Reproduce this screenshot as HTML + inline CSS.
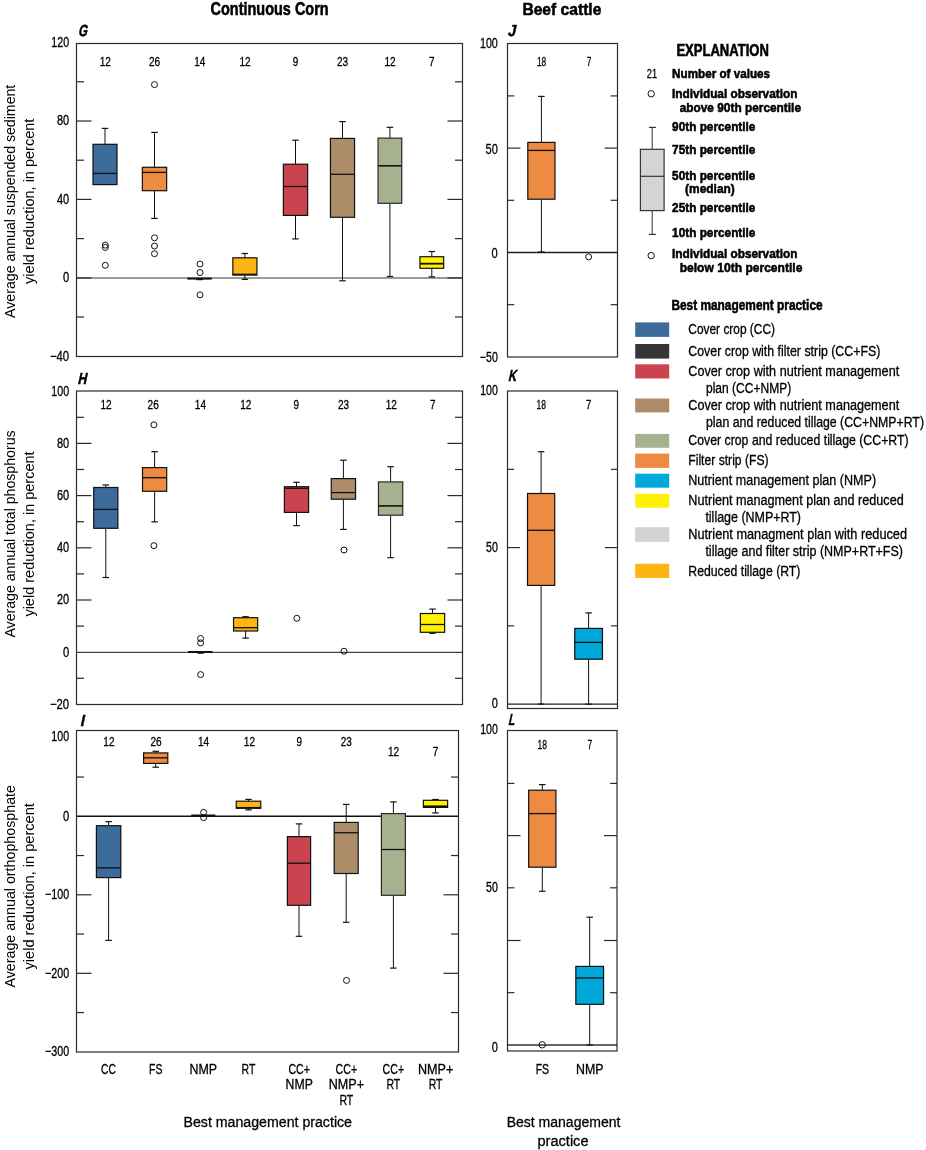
<!DOCTYPE html><html><head><meta charset="utf-8"><style>html,body{margin:0;padding:0;background:#fff;}svg{display:block;will-change:transform;}text{font-family:"Liberation Sans", sans-serif;}</style></head><body>
<svg width="926" height="1150" viewBox="0 0 926 1150">
<rect width="926" height="1150" fill="#fff"/>
<text x="210.6" y="15.1" font-size="17.5" text-anchor="start" font-weight="bold" font-style="normal" fill="#000" textLength="118.0" lengthAdjust="spacingAndGlyphs" stroke="#000" stroke-width="0.55">Continuous Corn</text>
<text x="522.4" y="15.0" font-size="17.3" text-anchor="start" font-weight="bold" font-style="normal" fill="#000" textLength="79.0" lengthAdjust="spacingAndGlyphs" stroke="#000" stroke-width="0.55">Beef cattle</text>
<line x1="76.50" y1="277.90" x2="462.50" y2="277.90" stroke="#7a7a7a" stroke-width="1.5"/>
<line x1="76.50" y1="121.00" x2="91.50" y2="121.00" stroke="#2b2b2b" stroke-width="1.2"/>
<line x1="447.50" y1="121.00" x2="462.50" y2="121.00" stroke="#2b2b2b" stroke-width="1.2"/>
<line x1="76.50" y1="199.40" x2="91.50" y2="199.40" stroke="#2b2b2b" stroke-width="1.2"/>
<line x1="447.50" y1="199.40" x2="462.50" y2="199.40" stroke="#2b2b2b" stroke-width="1.2"/>
<line x1="76.50" y1="277.90" x2="91.50" y2="277.90" stroke="#2b2b2b" stroke-width="1.2"/>
<line x1="447.50" y1="277.90" x2="462.50" y2="277.90" stroke="#2b2b2b" stroke-width="1.2"/>
<line x1="76.50" y1="81.80" x2="84.00" y2="81.80" stroke="#2b2b2b" stroke-width="1.2"/>
<line x1="455.00" y1="81.80" x2="462.50" y2="81.80" stroke="#2b2b2b" stroke-width="1.2"/>
<line x1="76.50" y1="160.20" x2="84.00" y2="160.20" stroke="#2b2b2b" stroke-width="1.2"/>
<line x1="455.00" y1="160.20" x2="462.50" y2="160.20" stroke="#2b2b2b" stroke-width="1.2"/>
<line x1="76.50" y1="238.60" x2="84.00" y2="238.60" stroke="#2b2b2b" stroke-width="1.2"/>
<line x1="455.00" y1="238.60" x2="462.50" y2="238.60" stroke="#2b2b2b" stroke-width="1.2"/>
<line x1="76.50" y1="317.00" x2="84.00" y2="317.00" stroke="#2b2b2b" stroke-width="1.2"/>
<line x1="455.00" y1="317.00" x2="462.50" y2="317.00" stroke="#2b2b2b" stroke-width="1.2"/>
<rect x="76.5" y="43.5" width="386.0" height="313.0" fill="none" stroke="#2b2b2b" stroke-width="1.2"/>
<g transform="translate(78.00,36.00) skewX(-12)"><text x="0" y="0" font-size="16.0" font-weight="bold" fill="#000" stroke="#000" stroke-width="0.5" textLength="8.94" lengthAdjust="spacingAndGlyphs">G</text></g>
<text x="51.3" y="46.9" font-size="14.2" text-anchor="start" font-weight="normal" font-style="normal" fill="#000" textLength="17.8" lengthAdjust="spacingAndGlyphs" stroke="#000" stroke-width="0.3">120</text>
<text x="56.9" y="125.3" font-size="14.2" text-anchor="start" font-weight="normal" font-style="normal" fill="#000" textLength="12.2" lengthAdjust="spacingAndGlyphs" stroke="#000" stroke-width="0.3">80</text>
<text x="56.9" y="203.7" font-size="14.2" text-anchor="start" font-weight="normal" font-style="normal" fill="#000" textLength="12.2" lengthAdjust="spacingAndGlyphs" stroke="#000" stroke-width="0.3">40</text>
<text x="62.9" y="282.1" font-size="14.2" text-anchor="start" font-weight="normal" font-style="normal" fill="#000" textLength="6.2" lengthAdjust="spacingAndGlyphs" stroke="#000" stroke-width="0.3">0</text>
<text x="49.9" y="360.5" font-size="14.2" text-anchor="start" font-weight="normal" font-style="normal" fill="#000" textLength="19.2" lengthAdjust="spacingAndGlyphs" stroke="#000" stroke-width="0.3">−40</text>
<text x="99.7" y="65.9" font-size="12.4" text-anchor="start" font-weight="normal" font-style="normal" fill="#000" textLength="11.2" lengthAdjust="spacingAndGlyphs" stroke="#000" stroke-width="0.3">12</text>
<text x="148.9" y="65.9" font-size="12.4" text-anchor="start" font-weight="normal" font-style="normal" fill="#000" textLength="11.2" lengthAdjust="spacingAndGlyphs" stroke="#000" stroke-width="0.3">26</text>
<text x="194.2" y="65.9" font-size="12.4" text-anchor="start" font-weight="normal" font-style="normal" fill="#000" textLength="11.2" lengthAdjust="spacingAndGlyphs" stroke="#000" stroke-width="0.3">14</text>
<text x="239.4" y="65.9" font-size="12.4" text-anchor="start" font-weight="normal" font-style="normal" fill="#000" textLength="11.2" lengthAdjust="spacingAndGlyphs" stroke="#000" stroke-width="0.3">12</text>
<text x="292.8" y="65.9" font-size="12.4" text-anchor="start" font-weight="normal" font-style="normal" fill="#000" textLength="5.5" lengthAdjust="spacingAndGlyphs" stroke="#000" stroke-width="0.3">9</text>
<text x="337.0" y="65.9" font-size="12.4" text-anchor="start" font-weight="normal" font-style="normal" fill="#000" textLength="11.2" lengthAdjust="spacingAndGlyphs" stroke="#000" stroke-width="0.3">23</text>
<text x="384.4" y="65.9" font-size="12.4" text-anchor="start" font-weight="normal" font-style="normal" fill="#000" textLength="11.2" lengthAdjust="spacingAndGlyphs" stroke="#000" stroke-width="0.3">12</text>
<text x="429.1" y="65.9" font-size="12.4" text-anchor="start" font-weight="normal" font-style="normal" fill="#000" textLength="5.5" lengthAdjust="spacingAndGlyphs" stroke="#000" stroke-width="0.3">7</text>
<line x1="105.00" y1="128.40" x2="105.00" y2="144.30" stroke="#111" stroke-width="1.0"/>
<line x1="101.75" y1="128.40" x2="108.25" y2="128.40" stroke="#111" stroke-width="1.2"/>
<rect x="93.00" y="144.30" width="24.00" height="40.30" fill="#3b6c9c" stroke="#111" stroke-width="1.2"/>
<line x1="93.00" y1="173.40" x2="117.00" y2="173.40" stroke="#111" stroke-width="1.3"/>
<circle cx="105.30" cy="245.10" r="3.0" fill="none" stroke="#111" stroke-width="1"/>
<circle cx="105.30" cy="247.40" r="3.0" fill="none" stroke="#111" stroke-width="1"/>
<circle cx="105.30" cy="265.30" r="3.0" fill="none" stroke="#111" stroke-width="1"/>
<line x1="154.50" y1="132.40" x2="154.50" y2="167.30" stroke="#111" stroke-width="1.0"/>
<line x1="151.25" y1="132.40" x2="157.75" y2="132.40" stroke="#111" stroke-width="1.2"/>
<line x1="154.50" y1="190.70" x2="154.50" y2="218.40" stroke="#111" stroke-width="1.0"/>
<line x1="151.25" y1="218.40" x2="157.75" y2="218.40" stroke="#111" stroke-width="1.2"/>
<rect x="142.35" y="167.30" width="24.30" height="23.40" fill="#ec8b41" stroke="#111" stroke-width="1.2"/>
<line x1="142.35" y1="172.40" x2="166.65" y2="172.40" stroke="#111" stroke-width="1.3"/>
<circle cx="154.50" cy="84.60" r="3.0" fill="none" stroke="#111" stroke-width="1"/>
<circle cx="154.50" cy="237.80" r="3.0" fill="none" stroke="#111" stroke-width="1"/>
<circle cx="154.50" cy="246.00" r="3.0" fill="none" stroke="#111" stroke-width="1"/>
<circle cx="154.50" cy="253.70" r="3.0" fill="none" stroke="#111" stroke-width="1"/>
<line x1="187.30" y1="278.60" x2="211.80" y2="278.60" stroke="#111" stroke-width="2.0"/>
<line x1="196.40" y1="279.20" x2="202.90" y2="279.20" stroke="#111" stroke-width="2.0"/>
<circle cx="200.00" cy="264.00" r="3.0" fill="none" stroke="#111" stroke-width="1"/>
<circle cx="200.00" cy="272.60" r="3.0" fill="none" stroke="#111" stroke-width="1"/>
<circle cx="200.00" cy="294.90" r="3.0" fill="none" stroke="#111" stroke-width="1"/>
<line x1="244.90" y1="253.50" x2="244.90" y2="257.80" stroke="#111" stroke-width="1.0"/>
<line x1="241.65" y1="253.50" x2="248.15" y2="253.50" stroke="#111" stroke-width="1.2"/>
<line x1="244.90" y1="275.10" x2="244.90" y2="279.40" stroke="#111" stroke-width="1.0"/>
<line x1="241.65" y1="279.40" x2="248.15" y2="279.40" stroke="#111" stroke-width="1.2"/>
<rect x="232.85" y="257.80" width="24.10" height="17.30" fill="#fdb515" stroke="#111" stroke-width="1.2"/>
<line x1="232.85" y1="274.30" x2="256.95" y2="274.30" stroke="#111" stroke-width="1.3"/>
<line x1="295.50" y1="140.20" x2="295.50" y2="164.20" stroke="#111" stroke-width="1.0"/>
<line x1="292.25" y1="140.20" x2="298.75" y2="140.20" stroke="#111" stroke-width="1.2"/>
<line x1="295.50" y1="215.40" x2="295.50" y2="238.90" stroke="#111" stroke-width="1.0"/>
<line x1="292.25" y1="238.90" x2="298.75" y2="238.90" stroke="#111" stroke-width="1.2"/>
<rect x="283.35" y="164.20" width="24.30" height="51.20" fill="#c9444f" stroke="#111" stroke-width="1.2"/>
<line x1="283.35" y1="186.50" x2="307.65" y2="186.50" stroke="#111" stroke-width="1.3"/>
<line x1="342.50" y1="121.60" x2="342.50" y2="138.40" stroke="#111" stroke-width="1.0"/>
<line x1="339.25" y1="121.60" x2="345.75" y2="121.60" stroke="#111" stroke-width="1.2"/>
<line x1="342.50" y1="217.30" x2="342.50" y2="280.80" stroke="#111" stroke-width="1.0"/>
<line x1="339.25" y1="280.80" x2="345.75" y2="280.80" stroke="#111" stroke-width="1.2"/>
<rect x="330.45" y="138.40" width="24.10" height="78.90" fill="#ad8c6a" stroke="#111" stroke-width="1.2"/>
<line x1="330.45" y1="174.30" x2="354.55" y2="174.30" stroke="#111" stroke-width="1.3"/>
<line x1="389.90" y1="127.30" x2="389.90" y2="138.10" stroke="#111" stroke-width="1.0"/>
<line x1="386.65" y1="127.30" x2="393.15" y2="127.30" stroke="#111" stroke-width="1.2"/>
<line x1="389.90" y1="203.30" x2="389.90" y2="276.50" stroke="#111" stroke-width="1.0"/>
<line x1="386.65" y1="276.50" x2="393.15" y2="276.50" stroke="#111" stroke-width="1.2"/>
<rect x="378.05" y="138.10" width="23.70" height="65.20" fill="#a6b28f" stroke="#2a2a2a" stroke-width="1.2"/>
<line x1="378.05" y1="165.80" x2="401.75" y2="165.80" stroke="#111" stroke-width="1.6"/>
<line x1="431.80" y1="251.50" x2="431.80" y2="256.70" stroke="#111" stroke-width="1.0"/>
<line x1="428.55" y1="251.50" x2="435.05" y2="251.50" stroke="#111" stroke-width="1.2"/>
<line x1="431.80" y1="268.30" x2="431.80" y2="276.90" stroke="#111" stroke-width="1.0"/>
<line x1="428.55" y1="276.90" x2="435.05" y2="276.90" stroke="#111" stroke-width="1.2"/>
<rect x="419.95" y="256.70" width="23.70" height="11.60" fill="#fff200" stroke="#111" stroke-width="1.2"/>
<line x1="419.95" y1="263.70" x2="443.65" y2="263.70" stroke="#111" stroke-width="1.8"/>
<line x1="76.50" y1="652.30" x2="462.50" y2="652.30" stroke="#444" stroke-width="1.3"/>
<line x1="76.50" y1="443.40" x2="91.50" y2="443.40" stroke="#2b2b2b" stroke-width="1.2"/>
<line x1="447.50" y1="443.40" x2="462.50" y2="443.40" stroke="#2b2b2b" stroke-width="1.2"/>
<line x1="76.50" y1="495.60" x2="91.50" y2="495.60" stroke="#2b2b2b" stroke-width="1.2"/>
<line x1="447.50" y1="495.60" x2="462.50" y2="495.60" stroke="#2b2b2b" stroke-width="1.2"/>
<line x1="76.50" y1="547.80" x2="91.50" y2="547.80" stroke="#2b2b2b" stroke-width="1.2"/>
<line x1="447.50" y1="547.80" x2="462.50" y2="547.80" stroke="#2b2b2b" stroke-width="1.2"/>
<line x1="76.50" y1="600.00" x2="91.50" y2="600.00" stroke="#2b2b2b" stroke-width="1.2"/>
<line x1="447.50" y1="600.00" x2="462.50" y2="600.00" stroke="#2b2b2b" stroke-width="1.2"/>
<line x1="76.50" y1="417.30" x2="84.00" y2="417.30" stroke="#2b2b2b" stroke-width="1.2"/>
<line x1="455.00" y1="417.30" x2="462.50" y2="417.30" stroke="#2b2b2b" stroke-width="1.2"/>
<line x1="76.50" y1="469.50" x2="84.00" y2="469.50" stroke="#2b2b2b" stroke-width="1.2"/>
<line x1="455.00" y1="469.50" x2="462.50" y2="469.50" stroke="#2b2b2b" stroke-width="1.2"/>
<line x1="76.50" y1="521.70" x2="84.00" y2="521.70" stroke="#2b2b2b" stroke-width="1.2"/>
<line x1="455.00" y1="521.70" x2="462.50" y2="521.70" stroke="#2b2b2b" stroke-width="1.2"/>
<line x1="76.50" y1="573.90" x2="84.00" y2="573.90" stroke="#2b2b2b" stroke-width="1.2"/>
<line x1="455.00" y1="573.90" x2="462.50" y2="573.90" stroke="#2b2b2b" stroke-width="1.2"/>
<line x1="76.50" y1="626.10" x2="84.00" y2="626.10" stroke="#2b2b2b" stroke-width="1.2"/>
<line x1="455.00" y1="626.10" x2="462.50" y2="626.10" stroke="#2b2b2b" stroke-width="1.2"/>
<line x1="76.50" y1="678.30" x2="84.00" y2="678.30" stroke="#2b2b2b" stroke-width="1.2"/>
<line x1="455.00" y1="678.30" x2="462.50" y2="678.30" stroke="#2b2b2b" stroke-width="1.2"/>
<rect x="76.5" y="391.0" width="386.0" height="313.5" fill="none" stroke="#2b2b2b" stroke-width="1.2"/>
<g transform="translate(77.60,384.00) skewX(-12)"><text x="0" y="0" font-size="16.0" font-weight="bold" fill="#000" stroke="#000" stroke-width="0.5" textLength="8.84" lengthAdjust="spacingAndGlyphs">H</text></g>
<text x="51.3" y="395.5" font-size="14.2" text-anchor="start" font-weight="normal" font-style="normal" fill="#000" textLength="17.8" lengthAdjust="spacingAndGlyphs" stroke="#000" stroke-width="0.3">100</text>
<text x="56.9" y="447.7" font-size="14.2" text-anchor="start" font-weight="normal" font-style="normal" fill="#000" textLength="12.2" lengthAdjust="spacingAndGlyphs" stroke="#000" stroke-width="0.3">80</text>
<text x="56.9" y="499.9" font-size="14.2" text-anchor="start" font-weight="normal" font-style="normal" fill="#000" textLength="12.2" lengthAdjust="spacingAndGlyphs" stroke="#000" stroke-width="0.3">60</text>
<text x="56.9" y="552.1" font-size="14.2" text-anchor="start" font-weight="normal" font-style="normal" fill="#000" textLength="12.2" lengthAdjust="spacingAndGlyphs" stroke="#000" stroke-width="0.3">40</text>
<text x="56.9" y="604.3" font-size="14.2" text-anchor="start" font-weight="normal" font-style="normal" fill="#000" textLength="12.2" lengthAdjust="spacingAndGlyphs" stroke="#000" stroke-width="0.3">20</text>
<text x="62.9" y="656.5" font-size="14.2" text-anchor="start" font-weight="normal" font-style="normal" fill="#000" textLength="6.2" lengthAdjust="spacingAndGlyphs" stroke="#000" stroke-width="0.3">0</text>
<text x="49.9" y="708.7" font-size="14.2" text-anchor="start" font-weight="normal" font-style="normal" fill="#000" textLength="19.2" lengthAdjust="spacingAndGlyphs" stroke="#000" stroke-width="0.3">−20</text>
<text x="100.4" y="408.8" font-size="12.4" text-anchor="start" font-weight="normal" font-style="normal" fill="#000" textLength="11.2" lengthAdjust="spacingAndGlyphs" stroke="#000" stroke-width="0.3">12</text>
<text x="147.6" y="408.8" font-size="12.4" text-anchor="start" font-weight="normal" font-style="normal" fill="#000" textLength="11.2" lengthAdjust="spacingAndGlyphs" stroke="#000" stroke-width="0.3">26</text>
<text x="194.8" y="408.8" font-size="12.4" text-anchor="start" font-weight="normal" font-style="normal" fill="#000" textLength="11.2" lengthAdjust="spacingAndGlyphs" stroke="#000" stroke-width="0.3">14</text>
<text x="240.2" y="408.8" font-size="12.4" text-anchor="start" font-weight="normal" font-style="normal" fill="#000" textLength="11.2" lengthAdjust="spacingAndGlyphs" stroke="#000" stroke-width="0.3">12</text>
<text x="293.6" y="408.8" font-size="12.4" text-anchor="start" font-weight="normal" font-style="normal" fill="#000" textLength="5.5" lengthAdjust="spacingAndGlyphs" stroke="#000" stroke-width="0.3">9</text>
<text x="337.9" y="408.8" font-size="12.4" text-anchor="start" font-weight="normal" font-style="normal" fill="#000" textLength="11.2" lengthAdjust="spacingAndGlyphs" stroke="#000" stroke-width="0.3">23</text>
<text x="385.7" y="408.8" font-size="12.4" text-anchor="start" font-weight="normal" font-style="normal" fill="#000" textLength="11.2" lengthAdjust="spacingAndGlyphs" stroke="#000" stroke-width="0.3">12</text>
<text x="429.9" y="408.8" font-size="12.4" text-anchor="start" font-weight="normal" font-style="normal" fill="#000" textLength="5.5" lengthAdjust="spacingAndGlyphs" stroke="#000" stroke-width="0.3">7</text>
<line x1="105.80" y1="485.00" x2="105.80" y2="487.50" stroke="#111" stroke-width="1.0"/>
<line x1="102.55" y1="485.00" x2="109.05" y2="485.00" stroke="#111" stroke-width="1.2"/>
<line x1="105.80" y1="528.30" x2="105.80" y2="577.50" stroke="#111" stroke-width="1.0"/>
<line x1="102.55" y1="577.50" x2="109.05" y2="577.50" stroke="#111" stroke-width="1.2"/>
<rect x="93.70" y="487.50" width="24.20" height="40.80" fill="#3b6c9c" stroke="#111" stroke-width="1.2"/>
<line x1="93.70" y1="509.40" x2="117.90" y2="509.40" stroke="#111" stroke-width="1.3"/>
<line x1="154.60" y1="451.70" x2="154.60" y2="467.60" stroke="#111" stroke-width="1.0"/>
<line x1="151.35" y1="451.70" x2="157.85" y2="451.70" stroke="#111" stroke-width="1.2"/>
<line x1="154.60" y1="491.30" x2="154.60" y2="521.80" stroke="#111" stroke-width="1.0"/>
<line x1="151.35" y1="521.80" x2="157.85" y2="521.80" stroke="#111" stroke-width="1.2"/>
<rect x="142.50" y="467.60" width="24.20" height="23.70" fill="#ec8b41" stroke="#111" stroke-width="1.2"/>
<line x1="142.50" y1="477.70" x2="166.70" y2="477.70" stroke="#111" stroke-width="1.3"/>
<circle cx="153.90" cy="424.80" r="3.0" fill="none" stroke="#111" stroke-width="1"/>
<circle cx="153.90" cy="545.70" r="3.0" fill="none" stroke="#111" stroke-width="1"/>
<line x1="188.10" y1="652.00" x2="212.50" y2="652.00" stroke="#111" stroke-width="2.0"/>
<line x1="197.50" y1="652.80" x2="203.70" y2="652.80" stroke="#111" stroke-width="2.0"/>
<circle cx="200.60" cy="638.50" r="3.0" fill="none" stroke="#111" stroke-width="1"/>
<circle cx="200.60" cy="642.90" r="3.0" fill="none" stroke="#111" stroke-width="1"/>
<circle cx="200.60" cy="674.60" r="3.0" fill="none" stroke="#111" stroke-width="1"/>
<line x1="245.60" y1="616.70" x2="245.60" y2="617.70" stroke="#111" stroke-width="1.0"/>
<line x1="242.35" y1="616.70" x2="248.85" y2="616.70" stroke="#111" stroke-width="1.2"/>
<line x1="245.60" y1="631.00" x2="245.60" y2="638.10" stroke="#111" stroke-width="1.0"/>
<line x1="242.35" y1="638.10" x2="248.85" y2="638.10" stroke="#111" stroke-width="1.2"/>
<rect x="233.55" y="617.70" width="24.10" height="13.30" fill="#fdb515" stroke="#111" stroke-width="1.2"/>
<line x1="233.55" y1="627.70" x2="257.65" y2="627.70" stroke="#111" stroke-width="1.3"/>
<line x1="296.50" y1="482.30" x2="296.50" y2="486.70" stroke="#111" stroke-width="1.0"/>
<line x1="293.25" y1="482.30" x2="299.75" y2="482.30" stroke="#111" stroke-width="1.2"/>
<line x1="296.50" y1="512.40" x2="296.50" y2="525.60" stroke="#111" stroke-width="1.0"/>
<line x1="293.25" y1="525.60" x2="299.75" y2="525.60" stroke="#111" stroke-width="1.2"/>
<rect x="284.40" y="486.70" width="24.20" height="25.70" fill="#c9444f" stroke="#111" stroke-width="1.2"/>
<line x1="284.40" y1="488.30" x2="308.60" y2="488.30" stroke="#111" stroke-width="1.3"/>
<circle cx="296.80" cy="618.30" r="3.0" fill="none" stroke="#111" stroke-width="1"/>
<line x1="343.40" y1="460.20" x2="343.40" y2="478.60" stroke="#111" stroke-width="1.0"/>
<line x1="340.15" y1="460.20" x2="346.65" y2="460.20" stroke="#111" stroke-width="1.2"/>
<line x1="343.40" y1="499.20" x2="343.40" y2="529.40" stroke="#111" stroke-width="1.0"/>
<line x1="340.15" y1="529.40" x2="346.65" y2="529.40" stroke="#111" stroke-width="1.2"/>
<rect x="331.25" y="478.60" width="24.30" height="20.60" fill="#ad8c6a" stroke="#111" stroke-width="1.2"/>
<line x1="331.25" y1="492.60" x2="355.55" y2="492.60" stroke="#111" stroke-width="1.3"/>
<circle cx="344.00" cy="550.00" r="3.0" fill="none" stroke="#111" stroke-width="1"/>
<circle cx="344.00" cy="651.20" r="3.0" fill="none" stroke="#111" stroke-width="1"/>
<line x1="390.60" y1="466.70" x2="390.60" y2="481.90" stroke="#111" stroke-width="1.0"/>
<line x1="387.35" y1="466.70" x2="393.85" y2="466.70" stroke="#111" stroke-width="1.2"/>
<line x1="390.60" y1="515.20" x2="390.60" y2="557.70" stroke="#111" stroke-width="1.0"/>
<line x1="387.35" y1="557.70" x2="393.85" y2="557.70" stroke="#111" stroke-width="1.2"/>
<rect x="378.45" y="481.90" width="24.30" height="33.30" fill="#a6b28f" stroke="#2a2a2a" stroke-width="1.2"/>
<line x1="378.45" y1="505.90" x2="402.75" y2="505.90" stroke="#111" stroke-width="1.6"/>
<line x1="432.50" y1="609.10" x2="432.50" y2="613.50" stroke="#111" stroke-width="1.0"/>
<line x1="429.25" y1="609.10" x2="435.75" y2="609.10" stroke="#111" stroke-width="1.2"/>
<line x1="432.50" y1="632.30" x2="432.50" y2="633.30" stroke="#111" stroke-width="1.0"/>
<line x1="429.25" y1="633.30" x2="435.75" y2="633.30" stroke="#111" stroke-width="1.2"/>
<rect x="420.35" y="613.50" width="24.30" height="18.80" fill="#fff200" stroke="#111" stroke-width="1.2"/>
<line x1="420.35" y1="624.50" x2="444.65" y2="624.50" stroke="#111" stroke-width="1.3"/>
<line x1="76.50" y1="816.30" x2="458.50" y2="816.30" stroke="#111" stroke-width="1.4"/>
<line x1="76.50" y1="894.80" x2="91.50" y2="894.80" stroke="#2b2b2b" stroke-width="1.2"/>
<line x1="443.50" y1="894.80" x2="458.50" y2="894.80" stroke="#2b2b2b" stroke-width="1.2"/>
<line x1="76.50" y1="973.30" x2="91.50" y2="973.30" stroke="#2b2b2b" stroke-width="1.2"/>
<line x1="443.50" y1="973.30" x2="458.50" y2="973.30" stroke="#2b2b2b" stroke-width="1.2"/>
<line x1="76.50" y1="777.05" x2="84.00" y2="777.05" stroke="#2b2b2b" stroke-width="1.2"/>
<line x1="451.00" y1="777.05" x2="458.50" y2="777.05" stroke="#2b2b2b" stroke-width="1.2"/>
<line x1="76.50" y1="855.55" x2="84.00" y2="855.55" stroke="#2b2b2b" stroke-width="1.2"/>
<line x1="451.00" y1="855.55" x2="458.50" y2="855.55" stroke="#2b2b2b" stroke-width="1.2"/>
<line x1="76.50" y1="934.05" x2="84.00" y2="934.05" stroke="#2b2b2b" stroke-width="1.2"/>
<line x1="451.00" y1="934.05" x2="458.50" y2="934.05" stroke="#2b2b2b" stroke-width="1.2"/>
<line x1="76.50" y1="1012.55" x2="84.00" y2="1012.55" stroke="#2b2b2b" stroke-width="1.2"/>
<line x1="451.00" y1="1012.55" x2="458.50" y2="1012.55" stroke="#2b2b2b" stroke-width="1.2"/>
<rect x="76.5" y="730.5" width="382.0" height="321.5" fill="none" stroke="#2b2b2b" stroke-width="1.2"/>
<g transform="translate(80.00,726.20) skewX(-12)"><text x="0" y="0" font-size="16.0" font-weight="bold" fill="#000" stroke="#000" stroke-width="0.5" textLength="3.94" lengthAdjust="spacingAndGlyphs">I</text></g>
<text x="51.3" y="740.8" font-size="14.2" text-anchor="start" font-weight="normal" font-style="normal" fill="#000" textLength="17.8" lengthAdjust="spacingAndGlyphs" stroke="#000" stroke-width="0.3">100</text>
<text x="62.9" y="820.6" font-size="14.2" text-anchor="start" font-weight="normal" font-style="normal" fill="#000" textLength="6.2" lengthAdjust="spacingAndGlyphs" stroke="#000" stroke-width="0.3">0</text>
<text x="45.0" y="899.1" font-size="14.2" text-anchor="start" font-weight="normal" font-style="normal" fill="#000" textLength="24.1" lengthAdjust="spacingAndGlyphs" stroke="#000" stroke-width="0.3">−100</text>
<text x="45.0" y="977.6" font-size="14.2" text-anchor="start" font-weight="normal" font-style="normal" fill="#000" textLength="24.1" lengthAdjust="spacingAndGlyphs" stroke="#000" stroke-width="0.3">−200</text>
<text x="45.0" y="1056.1" font-size="14.2" text-anchor="start" font-weight="normal" font-style="normal" fill="#000" textLength="24.1" lengthAdjust="spacingAndGlyphs" stroke="#000" stroke-width="0.3">−300</text>
<text x="103.3" y="746.4" font-size="12.4" text-anchor="start" font-weight="normal" font-style="normal" fill="#000" textLength="11.2" lengthAdjust="spacingAndGlyphs" stroke="#000" stroke-width="0.3">12</text>
<text x="150.4" y="746.4" font-size="12.4" text-anchor="start" font-weight="normal" font-style="normal" fill="#000" textLength="11.2" lengthAdjust="spacingAndGlyphs" stroke="#000" stroke-width="0.3">26</text>
<text x="198.0" y="746.4" font-size="12.4" text-anchor="start" font-weight="normal" font-style="normal" fill="#000" textLength="11.2" lengthAdjust="spacingAndGlyphs" stroke="#000" stroke-width="0.3">14</text>
<text x="243.8" y="746.4" font-size="12.4" text-anchor="start" font-weight="normal" font-style="normal" fill="#000" textLength="11.2" lengthAdjust="spacingAndGlyphs" stroke="#000" stroke-width="0.3">12</text>
<text x="296.4" y="746.4" font-size="12.4" text-anchor="start" font-weight="normal" font-style="normal" fill="#000" textLength="5.5" lengthAdjust="spacingAndGlyphs" stroke="#000" stroke-width="0.3">9</text>
<text x="340.7" y="746.4" font-size="12.4" text-anchor="start" font-weight="normal" font-style="normal" fill="#000" textLength="11.2" lengthAdjust="spacingAndGlyphs" stroke="#000" stroke-width="0.3">23</text>
<text x="388.0" y="756.0" font-size="12.4" text-anchor="start" font-weight="normal" font-style="normal" fill="#000" textLength="11.2" lengthAdjust="spacingAndGlyphs" stroke="#000" stroke-width="0.3">12</text>
<text x="432.8" y="756.0" font-size="12.4" text-anchor="start" font-weight="normal" font-style="normal" fill="#000" textLength="5.5" lengthAdjust="spacingAndGlyphs" stroke="#000" stroke-width="0.3">7</text>
<line x1="108.60" y1="821.60" x2="108.60" y2="825.70" stroke="#111" stroke-width="1.0"/>
<line x1="105.35" y1="821.60" x2="111.85" y2="821.60" stroke="#111" stroke-width="1.2"/>
<line x1="108.60" y1="877.60" x2="108.60" y2="940.40" stroke="#111" stroke-width="1.0"/>
<line x1="105.35" y1="940.40" x2="111.85" y2="940.40" stroke="#111" stroke-width="1.2"/>
<rect x="96.40" y="825.70" width="24.40" height="51.90" fill="#3b6c9c" stroke="#111" stroke-width="1.2"/>
<line x1="96.40" y1="867.90" x2="120.80" y2="867.90" stroke="#111" stroke-width="1.3"/>
<line x1="155.70" y1="751.30" x2="155.70" y2="752.90" stroke="#111" stroke-width="1.0"/>
<line x1="152.45" y1="751.30" x2="158.95" y2="751.30" stroke="#111" stroke-width="1.2"/>
<line x1="155.70" y1="763.40" x2="155.70" y2="767.20" stroke="#111" stroke-width="1.0"/>
<line x1="152.45" y1="767.20" x2="158.95" y2="767.20" stroke="#111" stroke-width="1.2"/>
<rect x="143.60" y="752.90" width="24.20" height="10.50" fill="#ec8b41" stroke="#111" stroke-width="1.2"/>
<line x1="143.60" y1="757.80" x2="167.80" y2="757.80" stroke="#111" stroke-width="1.3"/>
<line x1="191.20" y1="815.30" x2="215.40" y2="815.30" stroke="#111" stroke-width="1.6"/>
<circle cx="203.60" cy="812.40" r="3.0" fill="none" stroke="#111" stroke-width="1"/>
<circle cx="203.60" cy="817.60" r="3.0" fill="none" stroke="#111" stroke-width="1"/>
<line x1="248.50" y1="799.40" x2="248.50" y2="801.20" stroke="#111" stroke-width="1.0"/>
<line x1="245.25" y1="799.40" x2="251.75" y2="799.40" stroke="#111" stroke-width="1.2"/>
<line x1="248.50" y1="808.30" x2="248.50" y2="809.90" stroke="#111" stroke-width="1.0"/>
<line x1="245.25" y1="809.90" x2="251.75" y2="809.90" stroke="#111" stroke-width="1.2"/>
<rect x="236.25" y="801.20" width="24.50" height="7.10" fill="#fdb515" stroke="#111" stroke-width="1.2"/>
<line x1="236.25" y1="807.60" x2="260.75" y2="807.60" stroke="#111" stroke-width="1.3"/>
<line x1="299.00" y1="823.90" x2="299.00" y2="836.60" stroke="#111" stroke-width="1.0"/>
<line x1="295.75" y1="823.90" x2="302.25" y2="823.90" stroke="#111" stroke-width="1.2"/>
<line x1="299.00" y1="905.30" x2="299.00" y2="936.30" stroke="#111" stroke-width="1.0"/>
<line x1="295.75" y1="936.30" x2="302.25" y2="936.30" stroke="#111" stroke-width="1.2"/>
<rect x="287.40" y="836.60" width="23.20" height="68.70" fill="#c9444f" stroke="#111" stroke-width="1.2"/>
<line x1="287.40" y1="863.20" x2="310.60" y2="863.20" stroke="#111" stroke-width="1.3"/>
<line x1="346.20" y1="804.40" x2="346.20" y2="822.40" stroke="#111" stroke-width="1.0"/>
<line x1="342.95" y1="804.40" x2="349.45" y2="804.40" stroke="#111" stroke-width="1.2"/>
<line x1="346.20" y1="873.50" x2="346.20" y2="922.30" stroke="#111" stroke-width="1.0"/>
<line x1="342.95" y1="922.30" x2="349.45" y2="922.30" stroke="#111" stroke-width="1.2"/>
<rect x="334.20" y="822.40" width="24.00" height="51.10" fill="#ad8c6a" stroke="#111" stroke-width="1.2"/>
<line x1="334.20" y1="832.70" x2="358.20" y2="832.70" stroke="#111" stroke-width="1.3"/>
<circle cx="346.50" cy="980.40" r="3.0" fill="none" stroke="#111" stroke-width="1"/>
<line x1="393.40" y1="801.90" x2="393.40" y2="813.60" stroke="#111" stroke-width="1.0"/>
<line x1="390.15" y1="801.90" x2="396.65" y2="801.90" stroke="#111" stroke-width="1.2"/>
<line x1="393.40" y1="895.30" x2="393.40" y2="968.10" stroke="#111" stroke-width="1.0"/>
<line x1="390.15" y1="968.10" x2="396.65" y2="968.10" stroke="#111" stroke-width="1.2"/>
<rect x="381.40" y="813.60" width="24.00" height="81.70" fill="#a6b28f" stroke="#2a2a2a" stroke-width="1.2"/>
<line x1="381.40" y1="849.50" x2="405.40" y2="849.50" stroke="#111" stroke-width="1.3"/>
<line x1="435.50" y1="799.50" x2="435.50" y2="800.30" stroke="#111" stroke-width="1.0"/>
<line x1="432.25" y1="799.50" x2="438.75" y2="799.50" stroke="#111" stroke-width="1.2"/>
<line x1="435.50" y1="807.40" x2="435.50" y2="812.90" stroke="#111" stroke-width="1.0"/>
<line x1="432.25" y1="812.90" x2="438.75" y2="812.90" stroke="#111" stroke-width="1.2"/>
<rect x="423.40" y="800.30" width="24.20" height="7.10" fill="#fff200" stroke="#111" stroke-width="1.2"/>
<line x1="423.40" y1="806.30" x2="447.60" y2="806.30" stroke="#111" stroke-width="1.8"/>
<text x="101.0" y="1073.9" font-size="14.2" text-anchor="start" font-weight="normal" font-style="normal" fill="#000" textLength="15.0" lengthAdjust="spacingAndGlyphs" stroke="#000" stroke-width="0.3">CC</text>
<text x="149.1" y="1073.9" font-size="14.2" text-anchor="start" font-weight="normal" font-style="normal" fill="#000" textLength="13.4" lengthAdjust="spacingAndGlyphs" stroke="#000" stroke-width="0.3">FS</text>
<text x="189.5" y="1073.9" font-size="14.2" text-anchor="start" font-weight="normal" font-style="normal" fill="#000" textLength="27.6" lengthAdjust="spacingAndGlyphs" stroke="#000" stroke-width="0.3">NMP</text>
<text x="241.6" y="1073.9" font-size="14.2" text-anchor="start" font-weight="normal" font-style="normal" fill="#000" textLength="13.8" lengthAdjust="spacingAndGlyphs" stroke="#000" stroke-width="0.3">RT</text>
<text x="288.4" y="1073.9" font-size="14.2" text-anchor="start" font-weight="normal" font-style="normal" fill="#000" textLength="21.6" lengthAdjust="spacingAndGlyphs" stroke="#000" stroke-width="0.3">CC+</text>
<text x="285.6" y="1089.3" font-size="14.2" text-anchor="start" font-weight="normal" font-style="normal" fill="#000" textLength="27.2" lengthAdjust="spacingAndGlyphs" stroke="#000" stroke-width="0.3">NMP</text>
<text x="335.5" y="1073.9" font-size="14.2" text-anchor="start" font-weight="normal" font-style="normal" fill="#000" textLength="21.6" lengthAdjust="spacingAndGlyphs" stroke="#000" stroke-width="0.3">CC+</text>
<text x="328.7" y="1089.3" font-size="14.2" text-anchor="start" font-weight="normal" font-style="normal" fill="#000" textLength="35.3" lengthAdjust="spacingAndGlyphs" stroke="#000" stroke-width="0.3">NMP+</text>
<text x="339.4" y="1104.8" font-size="14.2" text-anchor="start" font-weight="normal" font-style="normal" fill="#000" textLength="13.8" lengthAdjust="spacingAndGlyphs" stroke="#000" stroke-width="0.3">RT</text>
<text x="382.5" y="1073.9" font-size="14.2" text-anchor="start" font-weight="normal" font-style="normal" fill="#000" textLength="21.6" lengthAdjust="spacingAndGlyphs" stroke="#000" stroke-width="0.3">CC+</text>
<text x="386.4" y="1089.3" font-size="14.2" text-anchor="start" font-weight="normal" font-style="normal" fill="#000" textLength="13.8" lengthAdjust="spacingAndGlyphs" stroke="#000" stroke-width="0.3">RT</text>
<text x="418.0" y="1073.9" font-size="14.2" text-anchor="start" font-weight="normal" font-style="normal" fill="#000" textLength="35.3" lengthAdjust="spacingAndGlyphs" stroke="#000" stroke-width="0.3">NMP+</text>
<text x="428.7" y="1089.3" font-size="14.2" text-anchor="start" font-weight="normal" font-style="normal" fill="#000" textLength="13.8" lengthAdjust="spacingAndGlyphs" stroke="#000" stroke-width="0.3">RT</text>
<text x="183.5" y="1127.4" font-size="15.5" text-anchor="start" font-weight="normal" font-style="normal" fill="#000" textLength="168.5" lengthAdjust="spacingAndGlyphs" stroke="#000" stroke-width="0.3">Best management practice</text>
<g transform="translate(14.9,201.3) rotate(-90)"><text x="0" y="0" font-size="15.5" text-anchor="middle" fill="#000" textLength="233.2" lengthAdjust="spacingAndGlyphs">Average annual suspended sediment</text></g>
<g transform="translate(33.7,201.3) rotate(-90)"><text x="0" y="0" font-size="15.5" text-anchor="middle" fill="#000" textLength="165.2" lengthAdjust="spacingAndGlyphs">yield reduction, in percent</text></g>
<g transform="translate(14.9,534.0) rotate(-90)"><text x="0" y="0" font-size="15.5" text-anchor="middle" fill="#000" textLength="207.1" lengthAdjust="spacingAndGlyphs">Average annual total phosphorus</text></g>
<g transform="translate(33.7,534.0) rotate(-90)"><text x="0" y="0" font-size="15.5" text-anchor="middle" fill="#000" textLength="165.2" lengthAdjust="spacingAndGlyphs">yield reduction, in percent</text></g>
<g transform="translate(14.9,886.3) rotate(-90)"><text x="0" y="0" font-size="15.5" text-anchor="middle" fill="#000" textLength="202.6" lengthAdjust="spacingAndGlyphs">Average annual orthophosphate</text></g>
<g transform="translate(33.7,886.3) rotate(-90)"><text x="0" y="0" font-size="15.5" text-anchor="middle" fill="#000" textLength="166.3" lengthAdjust="spacingAndGlyphs">yield reduction, in percent</text></g>
<line x1="507.50" y1="252.50" x2="617.50" y2="252.50" stroke="#222" stroke-width="1.3"/>
<line x1="507.50" y1="148.10" x2="520.40" y2="148.10" stroke="#2b2b2b" stroke-width="1.2"/>
<line x1="604.60" y1="148.10" x2="617.50" y2="148.10" stroke="#2b2b2b" stroke-width="1.2"/>
<line x1="507.50" y1="95.90" x2="514.30" y2="95.90" stroke="#2b2b2b" stroke-width="1.2"/>
<line x1="610.70" y1="95.90" x2="617.50" y2="95.90" stroke="#2b2b2b" stroke-width="1.2"/>
<line x1="507.50" y1="200.30" x2="514.30" y2="200.30" stroke="#2b2b2b" stroke-width="1.2"/>
<line x1="610.70" y1="200.30" x2="617.50" y2="200.30" stroke="#2b2b2b" stroke-width="1.2"/>
<line x1="507.50" y1="304.70" x2="514.30" y2="304.70" stroke="#2b2b2b" stroke-width="1.2"/>
<line x1="610.70" y1="304.70" x2="617.50" y2="304.70" stroke="#2b2b2b" stroke-width="1.2"/>
<rect x="507.5" y="43.5" width="110.0" height="313.5" fill="none" stroke="#2b2b2b" stroke-width="1.2"/>
<g transform="translate(507.60,36.30) skewX(-12)"><text x="0" y="0" font-size="16.0" font-weight="bold" fill="#000" stroke="#000" stroke-width="0.5" textLength="7.84" lengthAdjust="spacingAndGlyphs">J</text></g>
<text x="480.0" y="48.0" font-size="14.2" text-anchor="start" font-weight="normal" font-style="normal" fill="#000" textLength="17.8" lengthAdjust="spacingAndGlyphs" stroke="#000" stroke-width="0.3">100</text>
<text x="485.6" y="154.0" font-size="14.2" text-anchor="start" font-weight="normal" font-style="normal" fill="#000" textLength="12.2" lengthAdjust="spacingAndGlyphs" stroke="#000" stroke-width="0.3">50</text>
<text x="491.6" y="258.4" font-size="14.2" text-anchor="start" font-weight="normal" font-style="normal" fill="#000" textLength="6.2" lengthAdjust="spacingAndGlyphs" stroke="#000" stroke-width="0.3">0</text>
<text x="479.8" y="361.7" font-size="14.2" text-anchor="start" font-weight="normal" font-style="normal" fill="#000" textLength="18.0" lengthAdjust="spacingAndGlyphs" stroke="#000" stroke-width="0.3">−50</text>
<text x="536.9" y="66.0" font-size="12.4" text-anchor="start" font-weight="normal" font-style="normal" fill="#000" textLength="9.3" lengthAdjust="spacingAndGlyphs" stroke="#000" stroke-width="0.3">18</text>
<text x="586.7" y="66.0" font-size="12.4" text-anchor="start" font-weight="normal" font-style="normal" fill="#000" textLength="4.6" lengthAdjust="spacingAndGlyphs" stroke="#000" stroke-width="0.3">7</text>
<line x1="541.40" y1="96.40" x2="541.40" y2="142.40" stroke="#111" stroke-width="1.0"/>
<line x1="538.15" y1="96.40" x2="544.65" y2="96.40" stroke="#111" stroke-width="1.2"/>
<line x1="541.40" y1="199.20" x2="541.40" y2="252.00" stroke="#111" stroke-width="1.0"/>
<line x1="538.15" y1="252.00" x2="544.65" y2="252.00" stroke="#111" stroke-width="1.2"/>
<rect x="527.80" y="142.40" width="27.20" height="56.80" fill="#ec8b41" stroke="#111" stroke-width="1.2"/>
<line x1="527.80" y1="150.40" x2="555.00" y2="150.40" stroke="#111" stroke-width="1.3"/>
<circle cx="588.60" cy="256.90" r="3.0" fill="none" stroke="#111" stroke-width="1"/>
<line x1="507.50" y1="704.10" x2="617.50" y2="704.10" stroke="#222" stroke-width="1.3"/>
<line x1="507.50" y1="547.60" x2="520.00" y2="547.60" stroke="#2b2b2b" stroke-width="1.2"/>
<line x1="605.00" y1="547.60" x2="617.50" y2="547.60" stroke="#2b2b2b" stroke-width="1.2"/>
<line x1="507.50" y1="469.35" x2="514.10" y2="469.35" stroke="#2b2b2b" stroke-width="1.2"/>
<line x1="610.90" y1="469.35" x2="617.50" y2="469.35" stroke="#2b2b2b" stroke-width="1.2"/>
<line x1="507.50" y1="625.85" x2="514.10" y2="625.85" stroke="#2b2b2b" stroke-width="1.2"/>
<line x1="610.90" y1="625.85" x2="617.50" y2="625.85" stroke="#2b2b2b" stroke-width="1.2"/>
<rect x="507.5" y="391.0" width="110.0" height="317.5" fill="none" stroke="#2b2b2b" stroke-width="1.2"/>
<g transform="translate(508.00,380.60) skewX(-12)"><text x="0" y="0" font-size="16.0" font-weight="bold" fill="#000" stroke="#000" stroke-width="0.5" textLength="7.94" lengthAdjust="spacingAndGlyphs">K</text></g>
<text x="480.2" y="395.4" font-size="14.2" text-anchor="start" font-weight="normal" font-style="normal" fill="#000" textLength="17.6" lengthAdjust="spacingAndGlyphs" stroke="#000" stroke-width="0.3">100</text>
<text x="486.0" y="551.9" font-size="14.2" text-anchor="start" font-weight="normal" font-style="normal" fill="#000" textLength="11.8" lengthAdjust="spacingAndGlyphs" stroke="#000" stroke-width="0.3">50</text>
<text x="491.7" y="708.4" font-size="14.2" text-anchor="start" font-weight="normal" font-style="normal" fill="#000" textLength="6.1" lengthAdjust="spacingAndGlyphs" stroke="#000" stroke-width="0.3">0</text>
<text x="536.5" y="408.8" font-size="12.4" text-anchor="start" font-weight="normal" font-style="normal" fill="#000" textLength="9.5" lengthAdjust="spacingAndGlyphs" stroke="#000" stroke-width="0.3">18</text>
<text x="586.0" y="408.8" font-size="12.4" text-anchor="start" font-weight="normal" font-style="normal" fill="#000" textLength="5.3" lengthAdjust="spacingAndGlyphs" stroke="#000" stroke-width="0.3">7</text>
<line x1="541.10" y1="451.70" x2="541.10" y2="493.50" stroke="#111" stroke-width="1.0"/>
<line x1="537.85" y1="451.70" x2="544.35" y2="451.70" stroke="#111" stroke-width="1.2"/>
<line x1="541.10" y1="585.40" x2="541.10" y2="704.10" stroke="#111" stroke-width="1.0"/>
<line x1="537.85" y1="704.10" x2="544.35" y2="704.10" stroke="#111" stroke-width="1.2"/>
<rect x="527.50" y="493.50" width="27.20" height="91.90" fill="#ec8b41" stroke="#111" stroke-width="1.2"/>
<line x1="527.50" y1="530.30" x2="554.70" y2="530.30" stroke="#111" stroke-width="1.3"/>
<line x1="588.60" y1="612.90" x2="588.60" y2="628.40" stroke="#111" stroke-width="1.0"/>
<line x1="585.35" y1="612.90" x2="591.85" y2="612.90" stroke="#111" stroke-width="1.2"/>
<line x1="588.60" y1="659.20" x2="588.60" y2="704.10" stroke="#111" stroke-width="1.0"/>
<line x1="585.35" y1="704.10" x2="591.85" y2="704.10" stroke="#111" stroke-width="1.2"/>
<rect x="574.75" y="628.40" width="27.70" height="30.80" fill="#00a9da" stroke="#111" stroke-width="1.2"/>
<line x1="574.75" y1="642.40" x2="602.45" y2="642.40" stroke="#111" stroke-width="1.3"/>
<line x1="507.50" y1="1045.00" x2="617.00" y2="1045.00" stroke="#333" stroke-width="1.3"/>
<line x1="507.50" y1="835.60" x2="520.50" y2="835.60" stroke="#2b2b2b" stroke-width="1.2"/>
<line x1="604.00" y1="835.60" x2="617.00" y2="835.60" stroke="#2b2b2b" stroke-width="1.2"/>
<line x1="507.50" y1="940.50" x2="520.50" y2="940.50" stroke="#2b2b2b" stroke-width="1.2"/>
<line x1="604.00" y1="940.50" x2="617.00" y2="940.50" stroke="#2b2b2b" stroke-width="1.2"/>
<line x1="507.50" y1="783.40" x2="514.40" y2="783.40" stroke="#2b2b2b" stroke-width="1.2"/>
<line x1="610.10" y1="783.40" x2="617.00" y2="783.40" stroke="#2b2b2b" stroke-width="1.2"/>
<line x1="507.50" y1="887.80" x2="514.40" y2="887.80" stroke="#2b2b2b" stroke-width="1.2"/>
<line x1="610.10" y1="887.80" x2="617.00" y2="887.80" stroke="#2b2b2b" stroke-width="1.2"/>
<line x1="507.50" y1="992.70" x2="514.40" y2="992.70" stroke="#2b2b2b" stroke-width="1.2"/>
<line x1="610.10" y1="992.70" x2="617.00" y2="992.70" stroke="#2b2b2b" stroke-width="1.2"/>
<rect x="507.5" y="730.5" width="109.5" height="320.5" fill="none" stroke="#2b2b2b" stroke-width="1.2"/>
<g transform="translate(507.90,725.40) skewX(-12)"><text x="0" y="0" font-size="16.0" font-weight="bold" fill="#000" stroke="#000" stroke-width="0.5" textLength="6.34" lengthAdjust="spacingAndGlyphs">L</text></g>
<text x="480.2" y="734.0" font-size="14.2" text-anchor="start" font-weight="normal" font-style="normal" fill="#000" textLength="17.6" lengthAdjust="spacingAndGlyphs" stroke="#000" stroke-width="0.3">100</text>
<text x="486.0" y="891.8" font-size="14.2" text-anchor="start" font-weight="normal" font-style="normal" fill="#000" textLength="11.8" lengthAdjust="spacingAndGlyphs" stroke="#000" stroke-width="0.3">50</text>
<text x="491.7" y="1051.7" font-size="14.2" text-anchor="start" font-weight="normal" font-style="normal" fill="#000" textLength="6.1" lengthAdjust="spacingAndGlyphs" stroke="#000" stroke-width="0.3">0</text>
<text x="537.6" y="749.2" font-size="12.4" text-anchor="start" font-weight="normal" font-style="normal" fill="#000" textLength="9.5" lengthAdjust="spacingAndGlyphs" stroke="#000" stroke-width="0.3">18</text>
<text x="587.4" y="749.2" font-size="12.4" text-anchor="start" font-weight="normal" font-style="normal" fill="#000" textLength="4.7" lengthAdjust="spacingAndGlyphs" stroke="#000" stroke-width="0.3">7</text>
<line x1="542.30" y1="784.60" x2="542.30" y2="790.20" stroke="#111" stroke-width="1.0"/>
<line x1="539.05" y1="784.60" x2="545.55" y2="784.60" stroke="#111" stroke-width="1.2"/>
<line x1="542.30" y1="867.20" x2="542.30" y2="891.30" stroke="#111" stroke-width="1.0"/>
<line x1="539.05" y1="891.30" x2="545.55" y2="891.30" stroke="#111" stroke-width="1.2"/>
<rect x="528.65" y="790.20" width="27.30" height="77.00" fill="#ec8b41" stroke="#111" stroke-width="1.2"/>
<line x1="528.65" y1="813.60" x2="555.95" y2="813.60" stroke="#111" stroke-width="1.3"/>
<circle cx="542.20" cy="1044.80" r="3.2" fill="none" stroke="#111" stroke-width="1"/>
<line x1="589.70" y1="917.20" x2="589.70" y2="966.40" stroke="#111" stroke-width="1.0"/>
<line x1="586.45" y1="917.20" x2="592.95" y2="917.20" stroke="#111" stroke-width="1.2"/>
<line x1="589.70" y1="1004.30" x2="589.70" y2="1045.00" stroke="#111" stroke-width="1.0"/>
<line x1="586.45" y1="1045.00" x2="592.95" y2="1045.00" stroke="#111" stroke-width="1.2"/>
<rect x="575.85" y="966.40" width="27.70" height="37.90" fill="#00a9da" stroke="#111" stroke-width="1.2"/>
<line x1="575.85" y1="978.00" x2="603.55" y2="978.00" stroke="#111" stroke-width="1.3"/>
<text x="535.7" y="1073.8" font-size="14.2" text-anchor="start" font-weight="normal" font-style="normal" fill="#000" textLength="13.4" lengthAdjust="spacingAndGlyphs" stroke="#000" stroke-width="0.3">FS</text>
<text x="576.0" y="1073.8" font-size="14.2" text-anchor="start" font-weight="normal" font-style="normal" fill="#000" textLength="27.5" lengthAdjust="spacingAndGlyphs" stroke="#000" stroke-width="0.3">NMP</text>
<text x="506.7" y="1127.0" font-size="15.5" text-anchor="start" font-weight="normal" font-style="normal" fill="#000" textLength="113.7" lengthAdjust="spacingAndGlyphs" stroke="#000" stroke-width="0.3">Best management</text>
<text x="537.5" y="1145.6" font-size="15.5" text-anchor="start" font-weight="normal" font-style="normal" fill="#000" textLength="51.0" lengthAdjust="spacingAndGlyphs" stroke="#000" stroke-width="0.3">practice</text>
<text x="676.4" y="56.2" font-size="16.2" text-anchor="start" font-weight="bold" font-style="normal" fill="#000" textLength="92.5" lengthAdjust="spacingAndGlyphs" stroke="#000" stroke-width="0.55">EXPLANATION</text>
<text x="646.8" y="77.8" font-size="12.2" text-anchor="start" font-weight="normal" font-style="normal" fill="#000" textLength="10.2" lengthAdjust="spacingAndGlyphs" stroke="#000" stroke-width="0.3">21</text>
<text x="672.1" y="77.8" font-size="13.4" text-anchor="start" font-weight="bold" font-style="normal" fill="#000" textLength="97.9" lengthAdjust="spacingAndGlyphs" stroke="#000" stroke-width="0.55">Number of values</text>
<circle cx="651.20" cy="93.70" r="3.2" fill="none" stroke="#111" stroke-width="1"/>
<text x="672.1" y="98.1" font-size="13.4" text-anchor="start" font-weight="bold" font-style="normal" fill="#000" textLength="125.3" lengthAdjust="spacingAndGlyphs" stroke="#000" stroke-width="0.55">Individual observation</text>
<text x="679.7" y="111.7" font-size="13.4" text-anchor="start" font-weight="bold" font-style="normal" fill="#000" textLength="121.3" lengthAdjust="spacingAndGlyphs" stroke="#000" stroke-width="0.55">above 90th percentile</text>
<text x="672.1" y="130.5" font-size="13.4" text-anchor="start" font-weight="bold" font-style="normal" fill="#000" textLength="83.3" lengthAdjust="spacingAndGlyphs" stroke="#000" stroke-width="0.55">90th percentile</text>
<text x="672.1" y="154.2" font-size="13.4" text-anchor="start" font-weight="bold" font-style="normal" fill="#000" textLength="83.3" lengthAdjust="spacingAndGlyphs" stroke="#000" stroke-width="0.55">75th percentile</text>
<text x="672.1" y="179.5" font-size="13.4" text-anchor="start" font-weight="bold" font-style="normal" fill="#000" textLength="83.3" lengthAdjust="spacingAndGlyphs" stroke="#000" stroke-width="0.55">50th percentile</text>
<text x="685.1" y="192.9" font-size="13.4" text-anchor="start" font-weight="bold" font-style="normal" fill="#000" textLength="49.7" lengthAdjust="spacingAndGlyphs" stroke="#000" stroke-width="0.55">(median)</text>
<text x="672.1" y="212.4" font-size="13.4" text-anchor="start" font-weight="bold" font-style="normal" fill="#000" textLength="83.3" lengthAdjust="spacingAndGlyphs" stroke="#000" stroke-width="0.55">25th percentile</text>
<text x="672.1" y="237.2" font-size="13.4" text-anchor="start" font-weight="bold" font-style="normal" fill="#000" textLength="83.3" lengthAdjust="spacingAndGlyphs" stroke="#000" stroke-width="0.55">10th percentile</text>
<circle cx="651.20" cy="255.60" r="3.2" fill="none" stroke="#111" stroke-width="1"/>
<text x="672.1" y="258.4" font-size="13.4" text-anchor="start" font-weight="bold" font-style="normal" fill="#000" textLength="125.3" lengthAdjust="spacingAndGlyphs" stroke="#000" stroke-width="0.55">Individual observation</text>
<text x="679.7" y="272.2" font-size="13.4" text-anchor="start" font-weight="bold" font-style="normal" fill="#000" textLength="122.7" lengthAdjust="spacingAndGlyphs" stroke="#000" stroke-width="0.55">below 10th percentile</text>
<line x1="652.20" y1="127.40" x2="652.20" y2="149.30" stroke="#333" stroke-width="1.0"/>
<line x1="649.00" y1="127.40" x2="655.90" y2="127.40" stroke="#333" stroke-width="1.2"/>
<line x1="652.20" y1="210.60" x2="652.20" y2="234.40" stroke="#333" stroke-width="1.0"/>
<line x1="649.00" y1="234.40" x2="655.90" y2="234.40" stroke="#333" stroke-width="1.2"/>
<rect x="640.4" y="149.3" width="23.7" height="61.3" fill="#d4d4d6" stroke="#333" stroke-width="1.2"/>
<line x1="640.40" y1="176.30" x2="664.10" y2="176.30" stroke="#333" stroke-width="1.2"/>
<text x="671.4" y="310.1" font-size="15.0" text-anchor="start" font-weight="bold" font-style="normal" fill="#000" textLength="151.2" lengthAdjust="spacingAndGlyphs" stroke="#000" stroke-width="0.55">Best management practice</text>
<rect x="635.2" y="322.4" width="34" height="14.5" fill="#3b6c9c"/>
<rect x="635.2" y="344.0" width="34" height="14.6" fill="#363637"/>
<rect x="635.2" y="364.3" width="34" height="14.2" fill="#c9444f"/>
<rect x="635.2" y="398.5" width="34" height="13.9" fill="#ad8c6a"/>
<rect x="635.2" y="433.9" width="34" height="13.9" fill="#a6b28f"/>
<rect x="635.2" y="453.6" width="34" height="14.3" fill="#ec8b41"/>
<rect x="635.2" y="473.7" width="34" height="14.0" fill="#00a9da"/>
<rect x="635.2" y="493.8" width="34" height="13.9" fill="#fff200"/>
<rect x="635.2" y="527.2" width="34" height="14.6" fill="#d1d2d4"/>
<rect x="635.2" y="563.8" width="34" height="14.2" fill="#fdb515"/>
<text x="688.3" y="334.3" font-size="14.0" text-anchor="start" font-weight="normal" font-style="normal" fill="#000" textLength="86.7" lengthAdjust="spacingAndGlyphs" stroke="#000" stroke-width="0.3">Cover crop (CC)</text>
<text x="688.3" y="355.8" font-size="14.0" text-anchor="start" font-weight="normal" font-style="normal" fill="#000" textLength="192.0" lengthAdjust="spacingAndGlyphs" stroke="#000" stroke-width="0.3">Cover crop with filter strip (CC+FS)</text>
<text x="688.3" y="375.8" font-size="14.0" text-anchor="start" font-weight="normal" font-style="normal" fill="#000" textLength="210.9" lengthAdjust="spacingAndGlyphs" stroke="#000" stroke-width="0.3">Cover crop with nutrient management</text>
<text x="706.0" y="393.0" font-size="14.0" text-anchor="start" font-weight="normal" font-style="normal" fill="#000" textLength="85.2" lengthAdjust="spacingAndGlyphs" stroke="#000" stroke-width="0.3">plan (CC+NMP)</text>
<text x="688.3" y="409.9" font-size="14.0" text-anchor="start" font-weight="normal" font-style="normal" fill="#000" textLength="210.9" lengthAdjust="spacingAndGlyphs" stroke="#000" stroke-width="0.3">Cover crop with nutrient management</text>
<text x="706.0" y="426.7" font-size="14.0" text-anchor="start" font-weight="normal" font-style="normal" fill="#000" textLength="218.0" lengthAdjust="spacingAndGlyphs" stroke="#000" stroke-width="0.3">plan and reduced tillage (CC+NMP+RT)</text>
<text x="688.3" y="445.2" font-size="14.0" text-anchor="start" font-weight="normal" font-style="normal" fill="#000" textLength="220.3" lengthAdjust="spacingAndGlyphs" stroke="#000" stroke-width="0.3">Cover crop and reduced tillage (CC+RT)</text>
<text x="688.3" y="465.0" font-size="14.0" text-anchor="start" font-weight="normal" font-style="normal" fill="#000" textLength="80.3" lengthAdjust="spacingAndGlyphs" stroke="#000" stroke-width="0.3">Filter strip (FS)</text>
<text x="688.3" y="485.1" font-size="14.0" text-anchor="start" font-weight="normal" font-style="normal" fill="#000" textLength="187.8" lengthAdjust="spacingAndGlyphs" stroke="#000" stroke-width="0.3">Nutrient management plan (NMP)</text>
<text x="688.3" y="505.2" font-size="14.0" text-anchor="start" font-weight="normal" font-style="normal" fill="#000" textLength="215.4" lengthAdjust="spacingAndGlyphs" stroke="#000" stroke-width="0.3">Nutrient managment plan and reduced</text>
<text x="705.4" y="522.3" font-size="14.0" text-anchor="start" font-weight="normal" font-style="normal" fill="#000" textLength="95.6" lengthAdjust="spacingAndGlyphs" stroke="#000" stroke-width="0.3">tillage (NMP+RT)</text>
<text x="688.3" y="539.2" font-size="14.0" text-anchor="start" font-weight="normal" font-style="normal" fill="#000" textLength="218.7" lengthAdjust="spacingAndGlyphs" stroke="#000" stroke-width="0.3">Nutrient managment plan with reduced</text>
<text x="705.4" y="556.3" font-size="14.0" text-anchor="start" font-weight="normal" font-style="normal" fill="#000" textLength="197.6" lengthAdjust="spacingAndGlyphs" stroke="#000" stroke-width="0.3">tillage and filter strip (NMP+RT+FS)</text>
<text x="688.3" y="575.8" font-size="14.0" text-anchor="start" font-weight="normal" font-style="normal" fill="#000" textLength="112.1" lengthAdjust="spacingAndGlyphs" stroke="#000" stroke-width="0.3">Reduced tillage (RT)</text>
</svg></body></html>
